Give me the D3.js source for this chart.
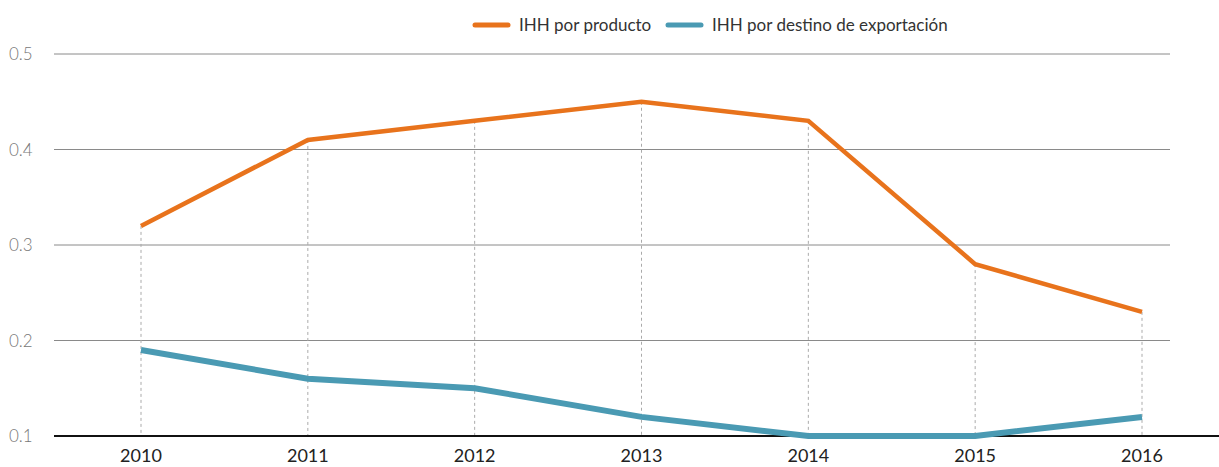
<!DOCTYPE html>
<html>
<head>
<meta charset="utf-8">
<script src="https://cdn.jsdelivr.net/npm/d3@7"></script>
<style>
    body { margin: 0; background: #fff; }
    svg { font-family: "Lato", "Open Sans", sans-serif; }
</style>
</head>
<body>
<div id="chart"></div>
<script>
var years = [2010, 2011, 2012, 2013, 2014, 2015, 2016];
var ihhProducto = [0.32, 0.41, 0.43, 0.45, 0.43, 0.28, 0.23];
var ihhDestino = [0.19, 0.16, 0.15, 0.12, 0.10, 0.10, 0.12];
var yTicks = [0.1, 0.2, 0.3, 0.4, 0.5];
var seriesNames = ["IHH por producto", "IHH por destino de exportación"];

const ORANGE = "#e8731c";
const BLUE = "#4a9ab3";

var width = 1219, height = 467;
var plotLeft = 54, plotRight = 1170, plotTop = 54, plotBottom = 436;

var svg = d3.select("#chart").append("svg")
    .attr("width", width)
    .attr("height", height);

var x = d3.scalePoint()
    .domain(years)
    .range([141, 1142]);

var y = d3.scaleLinear()
    .domain([0.1, 0.5])
    .range([plotBottom, plotTop]);

// grid lines
svg.selectAll(".grid")
    .data(yTicks.filter(function (d) { return d > 0.1; }))
    .enter().append("line")
    .attr("x1", plotLeft).attr("x2", plotRight)
    .attr("y1", function (d) { return y(d); })
    .attr("y2", function (d) { return y(d); })
    .style("stroke", "#8a8a8a")
    .style("stroke-width", 1);

// y tick labels
svg.selectAll(".ylabel")
    .data(yTicks)
    .enter().append("text")
    .attr("x", 9)
    .attr("y", function (d) { return y(d) + 6; })
    .style("font-size", "17px")
    .style("font-weight", 300)
    .style("fill", "#777")
    .text(function (d) { return d3.format(".1f")(d); });

// dashed verticals from top point to baseline
svg.selectAll(".drop")
    .data(years)
    .enter().append("line")
    .attr("x1", function (d) { return x(d); })
    .attr("x2", function (d) { return x(d); })
    .attr("y1", function (d, i) { return y(Math.max(ihhProducto[i], ihhDestino[i])); })
    .attr("y2", plotBottom)
    .style("stroke", "#aaa")
    .style("stroke-width", 1)
    .style("stroke-dasharray", "3,3");

// baseline
svg.append("line")
    .attr("x1", plotLeft).attr("x2", width)
    .attr("y1", plotBottom).attr("y2", plotBottom)
    .style("stroke", "#111")
    .style("stroke-width", 2);

// x axis labels
svg.selectAll(".xlabel")
    .data(years)
    .enter().append("text")
    .attr("x", function (d) { return x(d); })
    .attr("y", 462)
    .attr("text-anchor", "middle")
    .style("font-size", "18px")
    .style("fill", "#222")
    .text(function (d) { return d; });

var line = d3.line()
    .x(function (d, i) { return x(years[i]); })
    .y(function (d) { return y(d); });

svg.append("path")
    .datum(ihhDestino)
    .attr("d", line)
    .style("fill", "none")
    .style("stroke", BLUE)
    .style("stroke-width", 6);

svg.append("path")
    .datum(ihhProducto)
    .attr("d", line)
    .style("fill", "none")
    .style("stroke", ORANGE)
    .style("stroke-width", 4.5);

// legend
var legend = [
    { name: seriesNames[0], color: ORANGE, x: 475 },
    { name: seriesNames[1], color: BLUE, x: 668 }
];
var lg = svg.selectAll(".legend")
    .data(legend)
    .enter().append("g")
    .attr("transform", function (d) { return "translate(" + d.x + ",25)"; });
lg.append("line")
    .attr("x1", 0).attr("x2", 33)
    .style("stroke", function (d) { return d.color; })
    .style("stroke-width", 5)
    .style("stroke-linecap", "round");
lg.append("text")
    .attr("x", 44)
    .attr("y", 6)
    .style("font-size", "17px")
    .style("fill", "#333")
    .text(function (d) { return d.name; });
</script>
</body>
</html>
